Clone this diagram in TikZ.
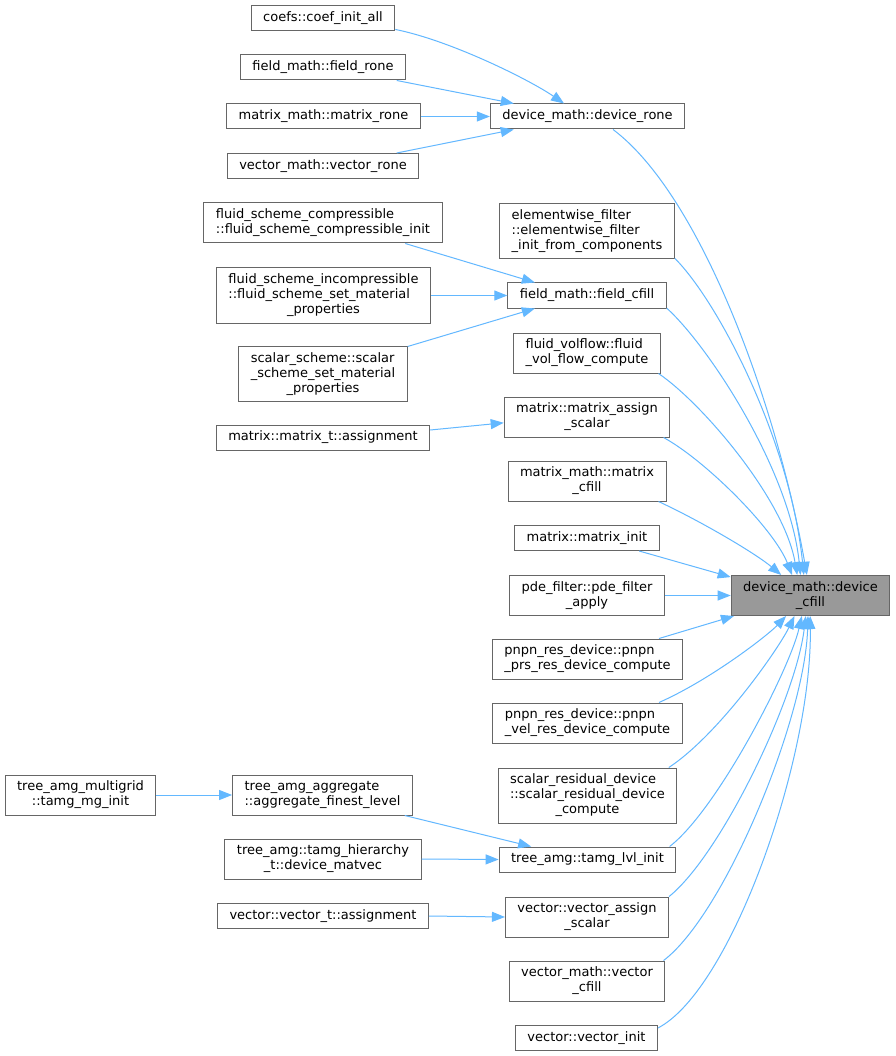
\documentclass[tikz,border=0pt]{standalone}
\usepackage{fontspec}
\setmainfont{DejaVu Sans}
\usetikzlibrary{arrows.meta}
\definecolor{edgeblue}{HTML}{63B8FF}
\definecolor{boxgray}{HTML}{666666}
\definecolor{rootgray}{HTML}{999999}
\newcommand{\dlabel}[2]{\begin{tabular}{@{}l@{}}#1\\\multicolumn{1}{@{}c@{}}{#2}\end{tabular}}
\begin{document}
\begin{tikzpicture}[x=1pt,y=-1pt,
    fn/.style={draw=boxgray,line width=1pt,fill=white,inner xsep=12pt,inner ysep=5pt,
      minimum height=25pt,font=\fontsize{13}{15}\selectfont},
    root/.style={fn,fill=rootgray},
    call/.style={color=edgeblue,line width=1pt,-{Triangle[length=13pt,width=10pt]}}]
  \path[use as bounding box,fill=white] (0,0) rectangle (895,1056);
  \path
    (323,18) node[fn] (coefinit) {coefs::coef\_init\_all}
    (323,67.5) node[fn] (fieldrone) {field\_math::field\_rone}
    (323.5,116.5) node[fn] (matrixrone) {matrix\_math::matrix\_rone}
    (323,166) node[fn] (vectorrone) {vector\_math::vector\_rone}
    (587.5,116.5) node[fn] (devrone) {device\_math::device\_rone}
    (323,223) node[fn] (fluidcomp) {\dlabel{fluid\_scheme\_compressible}{::fluid\_scheme\_compressible\_init}}
    (587,231.5) node[fn] (ewfilter) {\dlabel{elementwise\_filter\\::elementwise\_filter}{\_init\_from\_components}}
    (323.5,295.5) node[fn] (fluidinc) {\dlabel{fluid\_scheme\_incompressible\\::fluid\_scheme\_set\_material}{\_properties}}
    (587,295.5) node[fn] (fieldcfill) {field\_math::field\_cfill}
    (323,374) node[fn] (scalarsch) {\dlabel{scalar\_scheme::scalar\\\_scheme\_set\_material}{\_properties}}
    (587,353) node[fn] (volflow) {\dlabel{fluid\_volflow::fluid}{\_vol\_flow\_compute}}
    (587,417) node[fn] (matassign) {\dlabel{matrix::matrix\_assign}{\_scalar}}
    (323,437.5) node[fn] (mattassign) {matrix::matrix\_t::assignment}
    (587,481) node[fn] (matcfill) {\dlabel{matrix\_math::matrix}{\_cfill}}
    (587,538) node[fn] (matinit) {matrix::matrix\_init}
    (587,595.5) node[fn] (pdeapply) {\dlabel{pde\_filter::pde\_filter}{\_apply}}
    (810.5,595.5) node[root] (devcfill) {\dlabel{device\_math::device}{\_cfill}}
    (587.5,659) node[fn] (pnpnprs) {\dlabel{pnpn\_res\_device::pnpn}{\_prs\_res\_device\_compute}}
    (587.5,723) node[fn] (pnpnvel) {\dlabel{pnpn\_res\_device::pnpn}{\_vel\_res\_device\_compute}}
    (587.5,795.5) node[fn] (scalarres) {\dlabel{scalar\_residual\_device\\::scalar\_residual\_device}{\_compute}}
    (80.5,795) node[fn] (mginit) {\dlabel{tree\_amg\_multigrid}{::tamg\_mg\_init}}
    (322.5,795) node[fn] (aggfinest) {\dlabel{tree\_amg\_aggregate}{::aggregate\_finest\_level}}
    (323,859) node[fn] (hiermatvec) {\dlabel{tree\_amg::tamg\_hierarchy}{\_t::device\_matvec}}
    (587.5,859.5) node[fn] (lvlinit) {tree\_amg::tamg\_lvl\_init}
    (323,916) node[fn] (vectassign) {vector::vector\_t::assignment}
    (587,917) node[fn] (vecassign) {\dlabel{vector::vector\_assign}{\_scalar}}
    (587,981) node[fn] (veccfill) {\dlabel{vector\_math::vector}{\_cfill}}
    (586.5,1038) node[fn] (vecinit) {vector::vector\_init};
  \begin{scope}[call]
    \draw (coefinit.-9) .. controls +(55,11) and +(-35,-24) .. (devrone.151);
    \draw (fieldrone.-10) -- (devrone.170);
    \draw (matrixrone.east) -- (devrone.west);
    \draw (vectorrone.10) -- (devrone.190);
    \draw (fluidcomp.-14.6) -- (fieldcfill.166);
    \draw (fluidinc.east) -- (fieldcfill.west);
    \draw (scalarsch.18.4) -- (fieldcfill.194);
    \draw (mattassign.4.6) -- (matassign.184);
    \draw (mginit.east) -- (aggfinest.west);
    \draw (aggfinest.-14) -- (lvlinit.167);
    \draw (hiermatvec.east) -- (lvlinit.west);
    \draw (vectassign.east) -- (vecassign.west);
    \draw (devrone.-27) .. controls +(88,66) and +(-30,-170) .. (devcfill.100);
    \draw (ewfilter.-17) .. controls +(43,43) and +(-14,-136) .. (devcfill.108);
    \draw (fieldcfill.-9.5) .. controls +(41,37) and +(-11,-106) .. (devcfill.116);
    \draw (volflow.-16) .. controls +(43,29) and +(-13,-76) .. (devcfill.123);
    \draw (matassign.-15) .. controls +(42,23) and +(-18,-46) .. (devcfill.132);
    \draw (matcfill.-16) .. controls +(45,21) and +(-25,-21) .. (devcfill.145);
    \draw (matinit.-14) -- (devcfill.167);
    \draw (pdeapply.east) -- (devcfill.west);
    \draw (pnpnprs.16) -- (devcfill.-165);
    \draw (pnpnvel.16) .. controls +(52,-23) and +(-18,19) .. (devcfill.-140);
    \draw (scalarres.19.5) .. controls +(50,-33) and +(-16,33) .. (devcfill.-128);
    \draw (lvlinit.9) .. controls +(48,-37) and +(-12,53) .. (devcfill.-113);
    \draw (vecassign.14) .. controls +(52,-42) and +(-10,83) .. (devcfill.-103);
    \draw (veccfill.15) .. controls +(61,-46) and +(-3,103) .. (devcfill.-97);
    \draw (vecinit.8) .. controls +(73,-38) and +(2,143) .. (devcfill.-91);
  \end{scope}
\end{tikzpicture}
\end{document}
